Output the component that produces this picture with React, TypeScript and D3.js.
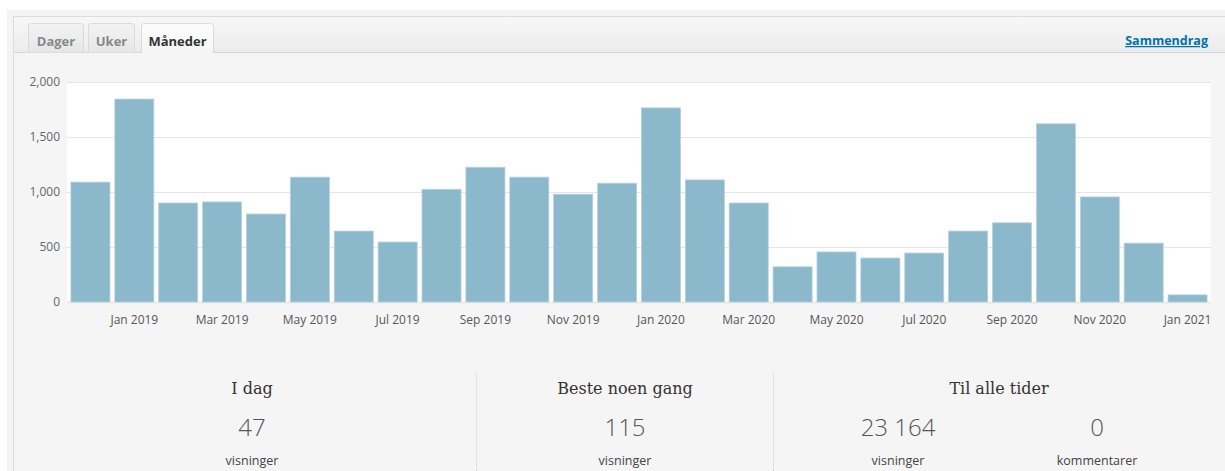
import React from 'react';
import * as d3 from 'd3';

// monthly views, Dec 2018 - Jan 2021
const months = [
  'Dec 2018', 'Jan 2019', 'Feb 2019', 'Mar 2019', 'Apr 2019', 'May 2019', 'Jun 2019',
  'Jul 2019', 'Aug 2019', 'Sep 2019', 'Oct 2019', 'Nov 2019', 'Dec 2019', 'Jan 2020',
  'Feb 2020', 'Mar 2020', 'Apr 2020', 'May 2020', 'Jun 2020', 'Jul 2020', 'Aug 2020',
  'Sep 2020', 'Oct 2020', 'Nov 2020', 'Dec 2020', 'Jan 2021'
];
const views = [
  1090, 1845, 900, 910, 800, 1135, 645, 545, 1025, 1225, 1135, 980, 1080, 1765,
  1110, 900, 320, 455, 400, 445, 645, 720, 1620, 955, 535, 65
];
const yTicks = [0, 500, 1000, 1500, 2000];
const tabs = ['Dager', 'Uker', 'Måneder'];

const W = 1225;
const H = 471;
const plot = { left: 67, right: 1211, top: 82, bottom: 302 };

function App() {
  const x = d3.scaleBand<string>()
    .domain(months)
    .range([plot.left + 1.5, plot.right - 1.5])
    .paddingInner(0.11)
    .paddingOuter(0.055);

  const y = d3.scaleLinear()
    .domain([0, 2000])
    .range([plot.bottom, plot.top]);

  const fmt = d3.format(',');
  const sans = '"Open Sans", "Noto Sans", sans-serif';
  const serif = '"DejaVu Serif", Georgia, serif';

  // tab geometry
  const tabX = [28, 88, 141];
  const tabW = [55, 46, 72];

  return (
    <svg width={W} height={H} style={{ position: 'absolute', left: 0, top: 0 }}>
      <defs>
        <linearGradient id="tabbar" x1="0" x2="0" y1="0" y2="1">
          <stop offset="0" stopColor="#f7f7f7" />
          <stop offset="1" stopColor="#ececec" />
        </linearGradient>
        <linearGradient id="tabOff" x1="0" x2="0" y1="0" y2="1">
          <stop offset="0" stopColor="#f3f3f3" />
          <stop offset="1" stopColor="#e6e6e6" />
        </linearGradient>
        <linearGradient id="tabOn" x1="0" x2="0" y1="0" y2="1">
          <stop offset="0" stopColor="#fdfdfd" />
          <stop offset="1" stopColor="#f5f5f5" />
        </linearGradient>
      </defs>

      <rect x={0} y={0} width={W} height={H} fill="#fff" />
      <rect x={7} y={10} width={W - 7} height={H - 10} fill="#f4f4f4" />
      <rect x={13.5} y={16.5} width={W} height={H} fill="#f5f5f5" stroke="#dcdcdc" />

      {/* tab bar */}
      <rect x={14} y={17} width={W - 14} height={35} fill="url(#tabbar)" />
      <line x1={14} x2={W} y1={52.5} y2={52.5} stroke="#d6d6d6" />
      {tabs.map((t, i) => {
        const on = i === tabs.length - 1;
        const x0 = tabX[i], w = tabW[i];
        return (
          <g key={t}>
            <path
              d={`M${x0 + 0.5},${on ? 53 : 52.5} V${26} Q${x0 + 0.5},${23.5} ${x0 + 3.5},${23.5} H${x0 + w - 3.5} Q${x0 + w + 0.5},${23.5} ${x0 + w + 0.5},${26} V${on ? 53 : 52.5}`}
              fill={on ? 'url(#tabOn)' : 'url(#tabOff)'}
              stroke="#dadada"
            />
            <text x={x0 + w / 2 + 0.5} y={46} textAnchor="middle" fontFamily={sans}
              fontWeight={700} fontSize={13} fill={on ? '#333' : '#888'}>{t}</text>
          </g>
        );
      })}
      <text x={1208} y={45} textAnchor="end" fontFamily={sans} fontWeight={700}
        fontSize={12.5} fill="#0073aa" textDecoration="underline">Sammendrag</text>

      {/* plot */}
      <rect x={plot.left} y={plot.top} width={plot.right - plot.left}
        height={plot.bottom - plot.top} fill="#fff" />
      {yTicks.map(t => (
        <g key={t}>
          <line x1={plot.left} x2={plot.right} y1={y(t) + 0.5} y2={y(t) + 0.5}
            stroke="#e6e6e6" strokeWidth={t === 0 ? 1.5 : 1.2} />
          <text x={60} y={y(t)} dy="0.35em" textAnchor="end" fontFamily={sans}
            fontSize={12} fill="#666">{fmt(t)}</text>
        </g>
      ))}
      {months.map((m, i) => (
        <rect key={m} x={x(m)!} y={y(views[i])} width={x.bandwidth()}
          height={y(0) - y(views[i])} fill="#8cb8cc" stroke="#b7d3e0" strokeWidth={0.8} />
      ))}
      {months.filter((_, i) => i % 2 === 1).map(m => (
        <text key={m} x={x(m)! + x.bandwidth() / 2} y={324} textAnchor="middle"
          fontFamily={sans} fontSize={12} fill="#555">{m}</text>
      ))}

      {/* summary */}
      <line x1={476.5} x2={476.5} y1={372} y2={H} stroke="#cfcfcf" strokeDasharray="1 1" />
      <line x1={773.5} x2={773.5} y1={372} y2={H} stroke="#cfcfcf" strokeDasharray="1 1" />

      <text x={252} y={394} textAnchor="middle" fontFamily={serif} fontSize={16} fill="#333">I dag</text>
      <text x={252} y={436} textAnchor="middle" fontFamily={sans} fontWeight={300} fontSize={24} fill="#555">47</text>
      <text x={252} y={465} textAnchor="middle" fontFamily={sans} fontSize={12.5} fill="#444">visninger</text>

      <text x={625} y={394} textAnchor="middle" fontFamily={serif} fontSize={16} fill="#333">Beste noen gang</text>
      <text x={625} y={436} textAnchor="middle" fontFamily={sans} fontWeight={300} fontSize={24} fill="#555">115</text>
      <text x={625} y={465} textAnchor="middle" fontFamily={sans} fontSize={12.5} fill="#444">visninger</text>

      <text x={999} y={394} textAnchor="middle" fontFamily={serif} fontSize={16} fill="#333">Til alle tider</text>
      <text x={898} y={436} textAnchor="middle" fontFamily={sans} fontWeight={300} fontSize={24} fill="#555">23 164</text>
      <text x={898} y={465} textAnchor="middle" fontFamily={sans} fontSize={12.5} fill="#444">visninger</text>
      <text x={1097} y={436} textAnchor="middle" fontFamily={sans} fontWeight={300} fontSize={24} fill="#555">0</text>
      <text x={1097} y={465} textAnchor="middle" fontFamily={sans} fontSize={12.5} fill="#444">kommentarer</text>
    </svg>
  );
}

export default App;
